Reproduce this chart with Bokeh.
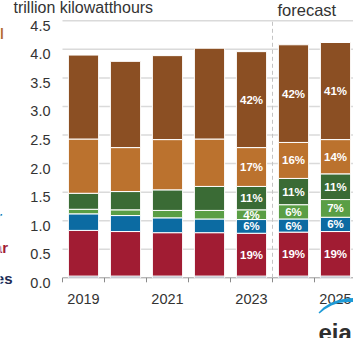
from bokeh.plotting import figure
from bokeh.models import Range1d
from bokeh.core.properties import value
from bokeh.embed import file_html
from bokeh.resources import INLINE

# ---- data (trillion kilowatthours) ----
years = [2019, 2020, 2021, 2022, 2023, 2024, 2025]
other = [0.03, 0.03, 0.03, 0.03, 0.03, 0.03, 0.03]
nuclear = [0.80, 0.78, 0.76, 0.76, 0.75, 0.77, 0.78]
hydro = [0.29, 0.28, 0.26, 0.24, 0.24, 0.23, 0.25]
solar = [0.08, 0.10, 0.13, 0.15, 0.17, 0.25, 0.31]
wind = [0.28, 0.32, 0.36, 0.42, 0.41, 0.46, 0.45]
coal = [0.95, 0.77, 0.88, 0.83, 0.68, 0.63, 0.60]
natural_gas = [1.47, 1.51, 1.47, 1.59, 1.68, 1.71, 1.70]

nuclear_pct = ["", "", "", "", "19%", "19%", "19%"]
hydro_pct = ["", "", "", "", "6%", "6%", "6%"]
solar_pct = ["", "", "", "", "4%", "6%", "7%"]
wind_pct = ["", "", "", "", "11%", "11%", "11%"]
coal_pct = ["", "", "", "", "17%", "16%", "14%"]
gas_pct = ["", "", "", "", "42%", "42%", "41%"]

x_ticks = [2019, 2021, 2023, 2025]
x_tick_labels = ["2019", "2021", "2023", "2025"]
y_ticks = [0.0, 0.5, 1.0, 1.5, 2.0, 2.5, 3.0, 3.5, 4.0, 4.5]
y_tick_labels = ["0.0", "0.5", "1.0", "1.5", "2.0", "2.5", "3.0", "3.5", "4.0", "4.5"]
forecast_start = 2023.5
unit_label = "trillion kilowatthours"
forecast_label = "forecast"

series = ["other", "nuclear", "hydro", "solar", "wind", "coal", "natural_gas"]
colors = ["#1d2b52", "#a11c33", "#0c6ba2", "#5a9e45", "#3a6b35", "#bb722e", "#8b4f23"]
pct_lists = [None, nuclear_pct, hydro_pct, solar_pct, wind_pct, coal_pct, gas_pct]

FONT = "Liberation Sans"
TXT = "#333333"

# geometry (pixels of the 353x343 page)
W, H = 353, 343
LEFT, BOTTOM, TOP45 = 62, 282.3, 25.3
X0, PX_YEAR = 2018.5, 42.0
PX_UNIT = (BOTTOM - TOP45) / 4.5


def dx(px):
    return X0 + (px - LEFT) / PX_YEAR


def dy(py):
    return (BOTTOM - py) / PX_UNIT


p = figure(width=W, height=H, output_backend="svg", toolbar_location=None,
           title=None,
           x_range=Range1d(dx(0), dx(W)), y_range=Range1d(dy(H), dy(0)),
           x_axis_location=None, y_axis_location=None,
           min_border=0, min_border_left=0, min_border_right=0,
           min_border_top=0, min_border_bottom=0,
           styles={"margin-top": "-5px"})
p.outline_line_color = None
p.background_fill_color = "white"
p.border_fill_color = "white"
p.grid.visible = False

# horizontal gridlines (value axis)
grid_y = [t for t in y_ticks if t > 0]
p.segment(x0=[dx(LEFT)] * len(grid_y), y0=grid_y, x1=[dx(W)] * len(grid_y), y1=grid_y,
          line_color="#dadada", line_width=1.5)

# category axis line and boundary ticks
bounds = [y - 0.5 for y in years] + [years[-1] + 0.5]
p.segment(x0=[dx(LEFT)], y0=[0], x1=[dx(W)], y1=[0], line_color="#9a9a9a", line_width=1)
p.segment(x0=bounds, y0=[0] * len(bounds), x1=bounds, y1=[dy(BOTTOM + 4.5)] * len(bounds),
          line_color="#8a8a8a", line_width=1)

data = dict(year=years, other=other, nuclear=nuclear, hydro=hydro, solar=solar,
            wind=wind, coal=coal, natural_gas=natural_gas)
p.vbar_stack(series, x="year", width=0.72, color=colors, source=data,
             line_color="white", line_width=1)

# forecast divider
p.segment(x0=[forecast_start], y0=[0], x1=[forecast_start], y1=[4.5],
          line_color="#c4c4c4", line_width=1, line_dash="4 3")

# percentage labels centred on their segments
lx, ly, lt = [], [], []
bottoms = [0.0] * len(years)
for name, pl in zip(series, pct_lists):
    for i, v in enumerate(data[name]):
        if pl is not None and pl[i]:
            lx.append(years[i])
            ly.append(bottoms[i] + v / 2.0)
            lt.append(pl[i])
        bottoms[i] += v
p.text(x=lx, y=ly, text=lt, text_color="white", text_font=value(FONT),
       text_font_size="11.5px", text_font_style="bold",
       text_align="center", text_baseline="middle")

# tick labels
p.text(x=[dx(50)] * len(y_ticks), y=[t - 5.0 / PX_UNIT for t in y_ticks], text=y_tick_labels,
       text_color=TXT, text_font=value(FONT), text_font_size="14.5px",
       text_align="right", text_baseline="alphabetic")
p.text(x=x_ticks, y=[dy(303.3)] * len(x_ticks), text=x_tick_labels,
       text_color=TXT, text_font=value(FONT), text_font_size="14.5px",
       text_align="center", text_baseline="alphabetic")

# unit label and forecast marker text
p.text(x=[dx(13)], y=[dy(11.8)], text=[unit_label], text_color=TXT,
       text_font=value(FONT), text_font_size="16px",
       text_align="left", text_baseline="alphabetic")
p.text(x=[dx(277)], y=[dy(14)], text=[forecast_label], text_color=TXT,
       text_font=value(FONT), text_font_size="16.5px",
       text_align="left", text_baseline="alphabetic")

# legend fragments cut off at the left edge (as in the source crop)
frag_text = ["coal", "hydropower", "nuclear", "other sources"]
frag_color = [colors[5], colors[2], colors[1], colors[0]]
frag_x = [dx(3.5), dx(1.5), dx(7.5), dx(12)]
frag_y = [dy(38), dy(221), dy(252), dy(282.5)]
p.text(x=frag_x, y=frag_y, text=frag_text, text_color=frag_color,
       text_font=value(FONT), text_font_size="15px", text_font_style="bold",
       text_align="right", text_baseline="alphabetic")

# eia logo
arc_px = [318, 323, 330, 338, 346, 353, 353, 346, 338, 331, 324, 319]
arc_py = [317, 312, 307.5, 304.5, 303, 302.5, 306.5, 306.5, 307.5, 310, 314, 318]
p.patch(x=[dx(v) for v in arc_px], y=[dy(v) for v in arc_py],
        fill_color="#1e9ad6", line_color=None)
p.text(x=[dx(318)], y=[dy(336.7)], text=["eia"], text_color="#2e2e2e",
       text_font=value(FONT), text_font_size="24px", text_font_style="bold",
       text_align="left", text_baseline="alphabetic")

open("out.html", "w").write(file_html(p, INLINE))
